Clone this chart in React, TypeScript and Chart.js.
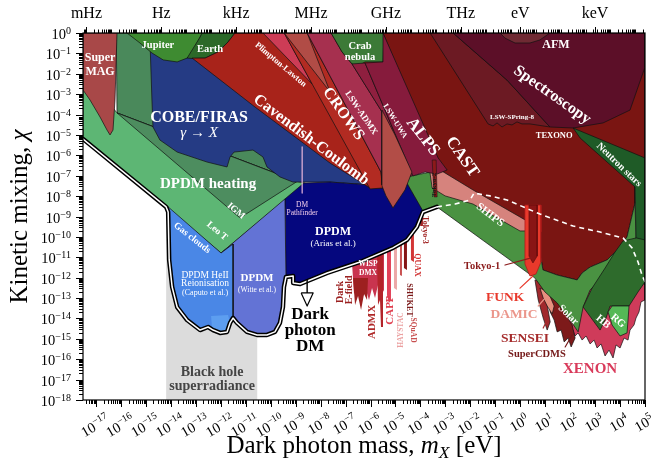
import React, { useEffect, useRef } from "react";
import { Chart, registerables } from "chart.js";

Chart.register(...registerables);

const SERIF = "'Liberation Serif', 'DejaVu Serif', serif";

// ---------- axes (log10 units) ----------
const xMinExp = -17.52;
const xMaxExp = 5;
const yMinExp = -18;
const yMaxExp = 0;
const xTickExps = [-17, -16, -15, -14, -13, -12, -11, -10, -9, -8, -7, -6, -5, -4, -3, -2, -1, 0, 1, 2, 3, 4, 5];
const yTickExps = [0, -1, -2, -3, -4, -5, -6, -7, -8, -9, -10, -11, -12, -13, -14, -15, -16, -17, -18];
const topTickLabels = ["mHz", "Hz", "kHz", "MHz", "GHz", "THz", "eV", "keV"];
const topTickMassesEV = [4.1357e-18, 4.1357e-15, 4.1357e-12, 4.1357e-9, 4.1357e-6, 4.1357e-3, 1, 1000];
const hzToEV = 4.1357e-15;

type Pts = [number, number][];

// ---------- regions: [log10 mass/eV, log10 chi] ----------
const bhSuperradiance: Pts = [[-14.19, -18], [-10.54, -18], [-10.54, -8], [-14.19, -8]];
const heatingDark: Pts = [[-16.19, 0], [-8.82, 0], [-8.94, -7.28], [-16.16, -3.92]];
const heatingLight: Pts = [[-17.52, -1.81], [-16.16, -3.92], [-8.94, -7.28], [-8.62, -7.36], [-11.99, -10.79], [-14.19, -8.53], [-17.52, -5.25]];
const igm: Pts = [[-16.16, -3.92], [-11.23, -9.07], [-8.94, -7.28]];
const superMAG: Pts = [[-17.52, 0], [-16.16, 0], [-16.24, -3.29], [-16.32, -4.76], [-16.44, -5.0], [-16.56, -4.76], [-16.84, -4.12], [-17.24, -3.29], [-17.52, -2.8]];
const cobeFiras: Pts = [[-14.84, -0.34], [-14.76, -3.29], [-14.72, -4.61], [-14.44, -5.25], [-13.75, -5.84], [-12.55, -6.33], [-11.75, -6.57], [-11.63, -6.08], [-11.47, -5.84], [-10.71, -5.74], [-10.31, -6.08], [-10.15, -6.57], [-9.63, -7.06], [-9.11, -7.31], [-7.62, -7.31], [-6.02, -7.45], [-4.42, -7.41], [-4.42, -0.34]];
const dpdmArias: Pts = [[-9.43, -8.14], [-8.67, -7.36], [-7.62, -7.31], [-6.02, -7.45], [-5.1, -7.45], [-4.54, -7.36], [-3.9, -8.68], [-4.14, -9.51], [-4.54, -10.15], [-5.1, -10.54], [-6.42, -11.23], [-7.74, -11.77], [-8.82, -12.31], [-9.1, -12.26], [-9.1, -11.92], [-9.39, -11.97]];
const dpdmWitte: Pts = [[-11.99, -10.79], [-9.43, -8.14], [-9.39, -11.97], [-9.47, -12.46], [-9.51, -13.44], [-9.63, -14.22], [-9.83, -14.66], [-10.15, -14.81], [-10.55, -14.81], [-10.95, -14.66], [-11.35, -14.22], [-11.51, -13.98], [-11.51, -10.35]];
const dpdmHeII: Pts = [[-14.11, -8.53], [-11.99, -10.79], [-11.51, -10.35], [-11.51, -13.98], [-11.63, -14.22], [-11.75, -14.66], [-12.03, -14.71], [-12.31, -14.57], [-12.51, -14.42], [-12.83, -14.57], [-13.35, -14.08], [-13.75, -13.44], [-13.95, -12.46], [-14.07, -11.13], [-14.11, -8.78]];
const heIIPatch: Pts = [[-12.39, -13.88], [-11.71, -13.83], [-11.63, -14.22], [-11.75, -14.62], [-12.03, -14.71], [-12.35, -14.52]];
const jupiter: Pts = [[-15.76, 0], [-15.24, -0.49], [-14.76, -0.98], [-14.31, -1.32], [-13.75, -1.42], [-13.35, -1.23], [-13.15, -0.98], [-12.83, -0.2], [-12.75, 0]];
const earth: Pts = [[-13.35, -1.23], [-12.83, -0.2], [-12.75, 0], [-11.43, 0], [-11.71, -0.44], [-12.11, -0.93], [-12.63, -1.23], [-13.15, -1.25]];
const cavendish: Pts = [[-13.15, -1.23], [-12.63, -1.23], [-12.11, -0.93], [-11.71, -0.44], [-11.43, 0], [-4.82, 0], [-4.82, -7.6], [-6.02, -7.6], [-7.62, -6.38], [-10.63, -3.63]];
const plimptonWedge: Pts = [[-10.31, 0], [-9.46, 0], [-8.34, -2.5]];
const crows: Pts = [[-9.46, 0], [-8.54, 0], [-5.58, -6.82], [-5.5, -7.6], [-6.02, -7.65], [-8.34, -2.5]];
const salmonTop: Pts = [[-9.46, 0], [-8.54, 0], [-7.62, -2.89]];
const lswAdmx: Pts = [[-8.54, 0], [-7.58, 0], [-7.14, -0.93], [-6.74, -1.52], [-5.54, -3.87], [-5.54, -7.45], [-5.58, -6.82]];
const crab: Pts = [[-7.58, 0], [-5.46, 0], [-5.5, -1.42], [-6.22, -1.42], [-6.5, -1.62], [-6.74, -1.52], [-7.14, -0.93]];
const lswUwa: Pts = [[-6.74, -1.52], [-6.22, -1.47], [-4.3, -7.01], [-4.3, -7.31], [-4.54, -6.62], [-4.98, -5.74], [-5.54, -3.87]];
const xenon: Pts = [[1.52, -13.09], [3.2, -12.11], [5.0, -11.13], [5.0, -13.09], [4.84, -13.19], [4.76, -13.68], [4.64, -13.98], [4.56, -14.32], [4.4, -14.57], [4.32, -15.06], [4.16, -14.96], [4.0, -15.45], [3.84, -15.3], [3.72, -15.94], [3.56, -15.55], [3.4, -15.84], [3.24, -15.25], [3.08, -15.45], [2.96, -15.06], [2.8, -15.25], [2.64, -14.86], [2.48, -15.06], [2.32, -14.71], [2.2, -14.86], [2.04, -14.37], [1.84, -14.47], [1.72, -14.08], [1.56, -13.98], [1.44, -13.49]];
const superCDMS: Pts = [[1.12, -12.85], [1.6, -13.09], [1.84, -13.83], [2.08, -14.32], [2.2, -14.96], [2.04, -15.4], [1.92, -14.96], [1.76, -15.15], [1.64, -14.57], [1.48, -14.66], [1.36, -14.08], [1.2, -13.68]];
const sensei: Pts = [[0.59, -12.11], [0.88, -12.21], [1.08, -13.34], [1.2, -14.17], [1.08, -14.57], [0.92, -13.98], [0.72, -13.09]];
const damic: Pts = [[0.79, -12.51], [1.12, -12.7], [1.36, -13.39], [1.28, -13.78], [1.08, -13.39], [0.92, -13.0]];
const stellarMaroon: Pts = [[-5.5, 0], [5.0, 0], [5.0, -6.72], [4.6, -7.21], [4.6, -8.34], [4.28, -10.0], [4.0, -10.5], [3.48, -11.13], [2.8, -11.48], [2.48, -11.77], [2.28, -12.11], [1.48, -11.87], [0.91, -11.62], [0.83, -11.03], [0.83, -9.76], [0.27, -9.32], [-1.89, -7.85], [-3.01, -7.11], [-3.29, -6.47]];
const solarShips: Pts = [[-4.54, -7.36], [-4.9, -7.21], [-4.34, -7.01], [-3.61, -6.82], [-3.21, -6.72], [-1.89, -7.8], [0.27, -9.3], [0.83, -9.76], [0.83, -11.03], [0.91, -11.62], [1.48, -11.87], [2.28, -12.11], [2.48, -11.77], [2.8, -11.48], [3.48, -11.13], [4.0, -10.5], [4.28, -10.0], [4.6, -8.34], [4.65, -10.64], [4.0, -11.23], [3.4, -11.87], [2.8, -12.6], [2.52, -13.44], [2.32, -14.66], [2.0, -14.08], [1.48, -13.24], [0.99, -12.7], [0.59, -12.02], [-3.34, -8.53], [-3.9, -8.73]];
const lswSpring8: Pts = [[-3.61, 0], [-2.69, 0], [-0.53, -2.31], [1.19, -4.61], [0.39, -4.46], [0.07, -4.46], [-0.13, -4.36], [-0.33, -4.51], [-0.53, -4.46], [-0.73, -4.61], [-0.93, -4.41], [-1.09, -4.56], [-1.29, -4.46]];
const spectroscopy: Pts = [[-2.69, 0], [5.0, 0], [5.0, -1.67], [4.4, -3.78], [3.32, -4.41], [2.12, -4.66], [1.19, -4.61], [-0.53, -2.31]];
const afm: Pts = [[-0.81, 0], [1.19, 0], [0.79, -0.34], [0.39, -0.49], [-0.21, -0.49], [-0.61, -0.25]];
const neutronStars: Pts = [[2.12, -4.66], [5.0, -6.13], [5.0, -12.36], [4.8, -11.87], [4.65, -10.64], [4.6, -7.55], [2.4, -5.15]];
const hb: Pts = [[2.52, -13.44], [2.88, -12.51], [3.4, -11.53], [3.8, -10.74], [4.12, -10.2], [4.65, -10.05], [5.0, -10.15], [5.0, -12.21], [4.72, -12.7], [4.36, -13.39], [3.6, -13.39], [3.44, -13.98], [3.2, -14.57]];
const rg: Pts = [[3.52, -13.68], [3.68, -13.39], [4.36, -13.39], [4.32, -14.08], [4.28, -14.71], [4.0, -14.86], [3.68, -14.32]];
const castPink: Pts = [[-3.69, -6.23], [-3.21, -6.72], [-1.89, -7.7], [0.27, -9.22], [0.51, -9.71], [-0.01, -9.71], [-1.89, -8.39], [-3.01, -7.99], [-3.53, -7.6]];
const alps: Pts = [[-6.22, -1.47], [-5.5, -1.42], [-5.5, 0], [-3.29, -6.13], [-2.93, -6.72], [-3.33, -6.92], [-3.81, -6.82], [-4.3, -7.01]];
const lswTongue: Pts = [[-5.54, -3.78], [-5.02, -5.0], [-4.34, -6.82], [-4.62, -7.7], [-5.1, -8.58], [-5.38, -7.99], [-5.54, -7.5]];
const tokyo2: Pts = [[-3.53, -6.23], [-3.37, -6.23], [-3.33, -8.04], [-3.45, -8.04]];
const funk: Pts = [[0.19, -8.44], [0.83, -8.44], [0.83, -11.23], [0.63, -11.82], [0.39, -11.92], [0.19, -11.33]];
const tokyo1: Pts = [[0.35, -8.44], [0.68, -8.44], [0.68, -10.94], [0.51, -11.28], [0.35, -10.94]];
const wispDmx: Pts = [[-6.74, -11.33], [-5.46, -10.69], [-5.46, -12.6], [-5.58, -12.9], [-5.7, -12.36], [-5.82, -13.0], [-5.94, -12.51], [-6.06, -13.09], [-6.18, -12.6], [-6.34, -13.0], [-6.5, -12.51], [-6.66, -12.8]];
const darkEField: Pts = [[-6.7, -12.02], [-6.1, -12.02], [-6.14, -13.09], [-6.26, -12.8], [-6.38, -13.59], [-6.5, -12.9], [-6.62, -13.34]];
const admx: Pts = [[-5.74, -10.94], [-5.5, -10.84], [-5.5, -14.42], [-5.58, -14.42], [-5.62, -13.09], [-5.7, -13.34]];
const capp: Pts = [[-5.34, -10.64], [-5.18, -10.59], [-5.18, -13.09], [-5.26, -13.24], [-5.34, -12.85]];
const haystac: Pts = [[-5.06, -10.5], [-4.94, -10.45], [-4.94, -12.6], [-5.06, -12.51]];
const squad: Pts = [[-4.82, -10.35], [-4.74, -10.3], [-4.74, -11.92], [-4.82, -11.87]];
const shuket: Pts = [[-4.66, -10.25], [-4.54, -10.2], [-4.54, -11.62], [-4.66, -11.53]];
const quax: Pts = [[-4.38, -9.96], [-4.26, -9.86], [-4.26, -11.23], [-4.38, -11.13]];
const tokyo3: Pts = [[-4.01, -8.88], [-3.9, -8.78], [-3.9, -9.47], [-4.01, -9.47]];

// ---------- lines ----------
const dmEnvelope: Pts = [[-17.52, -5.2], [-14.19, -8.53], [-14.11, -8.78], [-14.07, -11.13], [-13.95, -12.46], [-13.75, -13.44], [-13.35, -14.08], [-12.83, -14.57], [-12.51, -14.42], [-12.31, -14.57], [-12.03, -14.71], [-11.75, -14.66], [-11.63, -14.22], [-11.51, -13.98], [-11.35, -14.22], [-10.95, -14.66], [-10.55, -14.81], [-10.15, -14.81], [-9.83, -14.66], [-9.63, -14.22], [-9.51, -13.44], [-9.47, -12.46], [-9.39, -11.97], [-9.1, -11.92], [-9.1, -12.26], [-8.82, -12.31], [-7.74, -11.77], [-6.42, -11.23], [-5.1, -10.54], [-4.54, -10.15], [-4.14, -9.51], [-3.9, -8.78], [-3.34, -8.53]];
const dmEnvelopeDashed: Pts = [[-3.34, -8.53], [-2.61, -8.39], [-2.01, -8.19], [-1.85, -7.85], [-1.21, -7.99], [-0.53, -8.19], [0.79, -8.88], [2.12, -9.47], [3.2, -9.76], [4.12, -10.05], [4.48, -10.54], [4.72, -11.23], [4.88, -11.87], [5.0, -12.21]];
const pathfinderLine: Pts = [[-8.74, -5.59], [-8.74, -7.85]];
const arrowShaft: Pts = [[-8.54, -12.11], [-8.54, -12.75]];
const arrowHead: Pts = [[-8.78, -12.75], [-8.3, -12.75], [-8.54, -13.39]];
const tokyo1Pointer: Pts = [[-0.61, -11.38], [0.44, -11.03]];
const funkPointer: Pts = [[-0.01, -12.51], [0.51, -11.92]];
const damicPointer: Pts = [[0.72, -13.39], [0.96, -13.05]];
const senseiPointer: Pts = [[0.92, -14.47], [1.08, -14.08]];
const superCDMSPointer: Pts = [[1.8, -15.4], [2.08, -14.81]];

// ---------- style tables ----------
type Layer = { pts: Pts; kind: "poly" | "line"; color: string; stroke?: string; width?: number; dash?: number[] };
const K = "#111";
const layers: Layer[] = [
  { pts: bhSuperradiance, kind: "poly", color: "#dcdcdc", width: 0 },
  { pts: heatingDark, kind: "poly", color: "#4a895b" },
  { pts: heatingLight, kind: "poly", color: "#5db674" },
  { pts: igm, kind: "poly", color: "#4d8d5f" },
  { pts: superMAG, kind: "poly", color: "#a84848" },
  { pts: cobeFiras, kind: "poly", color: "#253b84" },
  { pts: dpdmArias, kind: "poly", color: "#05077e" },
  { pts: dpdmWitte, kind: "poly", color: "#6373d5" },
  { pts: dpdmHeII, kind: "poly", color: "#4a87e6" },
  { pts: heIIPatch, kind: "poly", color: "#5d9ef0", width: 0 },
  { pts: jupiter, kind: "poly", color: "#3e8b31" },
  { pts: earth, kind: "poly", color: "#2c6929" },
  { pts: cavendish, kind: "poly", color: "#a8231a" },
  { pts: plimptonWedge, kind: "poly", color: "#cd3c56" },
  { pts: crows, kind: "poly", color: "#b22b22" },
  { pts: salmonTop, kind: "poly", color: "#b14c46" },
  { pts: lswAdmx, kind: "poly", color: "#a6304f" },
  { pts: crab, kind: "poly", color: "#3c7a37" },
  { pts: lswUwa, kind: "poly", color: "#8f1f3f" },
  { pts: xenon, kind: "poly", color: "#cf3b5a" },
  { pts: superCDMS, kind: "poly", color: "#7d1a1a" },
  { pts: sensei, kind: "poly", color: "#a1292d" },
  { pts: damic, kind: "poly", color: "#e8907f" },
  { pts: stellarMaroon, kind: "poly", color: "#7a1512" },
  { pts: solarShips, kind: "poly", color: "#4a9242" },
  { pts: lswSpring8, kind: "poly", color: "#6c1a23" },
  { pts: spectroscopy, kind: "poly", color: "#5c0f28" },
  { pts: afm, kind: "poly", color: "#6f2a33" },
  { pts: neutronStars, kind: "poly", color: "#1f5b27" },
  { pts: hb, kind: "poly", color: "#2e6b2c" },
  { pts: rg, kind: "poly", color: "#55b856" },
  { pts: castPink, kind: "poly", color: "#d6837d" },
  { pts: alps, kind: "poly", color: "#861b3c" },
  { pts: lswTongue, kind: "poly", color: "#b24d47" },
  { pts: tokyo2, kind: "poly", color: "#8c1a1a", width: 0.5 },
  { pts: funk, kind: "poly", color: "#e9392b", stroke: "#b01c1c", width: 0.8 },
  { pts: tokyo1, kind: "poly", color: "#8a1515", stroke: "#5a0a0a", width: 0.6 },
  { pts: wispDmx, kind: "poly", color: "#c9344f", width: 0 },
  { pts: darkEField, kind: "poly", color: "#9d2020", width: 0 },
  { pts: admx, kind: "poly", color: "#b3242a", width: 0 },
  { pts: capp, kind: "poly", color: "#e2425a", width: 0 },
  { pts: haystac, kind: "poly", color: "#eca8a8", width: 0 },
  { pts: squad, kind: "poly", color: "#c95151", width: 0 },
  { pts: shuket, kind: "poly", color: "#861616", width: 0 },
  { pts: quax, kind: "poly", color: "#d33535", width: 0 },
  { pts: tokyo3, kind: "poly", color: "#a42222", width: 0 },
  { pts: dmEnvelope, kind: "line", color: "#000", width: 4.5 },
  { pts: dmEnvelope, kind: "line", color: "#fff", width: 1.5 },
  { pts: dmEnvelopeDashed, kind: "line", color: "#fff", width: 1.6, dash: [5, 4] },
  { pts: pathfinderLine, kind: "line", color: "#e7b5da", width: 1.2 },
  { pts: tokyo1Pointer, kind: "line", color: "#8b1c1c", width: 1.2 },
  { pts: funkPointer, kind: "line", color: "#e8392c", width: 1.2 },
  { pts: damicPointer, kind: "line", color: "#eb968b", width: 1.2 },
  { pts: senseiPointer, kind: "line", color: "#a52b2b", width: 1.2 },
  { pts: superCDMSPointer, kind: "line", color: "#741818", width: 1.2 },
  { pts: arrowShaft, kind: "line", color: "#000", width: 1.4 },
  { pts: arrowHead, kind: "poly", color: "#fff", stroke: "#000", width: 1.2 },
];

// ---------- annotations: text, log10 m, log10 chi, angle, size, colour, weight ----------
const W = "#fff";
const annotations: [string, number, number, number, number, string, string][] = [
  ["Super", -16.84, -1.2, 0, 12, W, "bold"],
  ["MAG", -16.84, -1.91, 0, 12, W, "bold"],
  ["Jupiter", -14.52, -0.59, 0, 10.5, W, "bold"],
  ["Earth", -12.43, -0.78, 0, 10.5, W, "bold"],
  ["Plimpton-Lawton", -9.6, -1.55, 40, 8.5, W, "bold"],
  ["COBE/FIRAS", -12.87, -4.17, 0, 16, W, "bold"],
  ["\u03b3 \u2192 X", -12.87, -4.9, 0, 15, W, "italic"],
  ["Cavendish-Coulomb", -8.38, -5.25, 37, 16, W, "bold"],
  ["CROWS", -7.09, -3.97, 55, 16, W, "bold"],
  ["LSW-ADMX", -6.38, -3.92, 56, 9, W, "bold"],
  ["LSW-UWA", -5.02, -4.32, 58, 8, W, "bold"],
  ["ALPS", -3.9, -5.1, 52, 17, W, "bold"],
  ["CAST", -2.33, -6.08, 55, 17, W, "bold"],
  ["Crab", -6.42, -0.64, 0, 10.5, W, "bold"],
  ["nebula", -6.42, -1.18, 0, 10.5, W, "bold"],
  ["AFM", 1.43, -0.59, 0, 12, W, "bold"],
  ["Spectroscopy", 1.28, -3.04, 35, 16, W, "bold"],
  ["LSW-SPring-8", -0.33, -4.12, 0, 7, W, "bold"],
  ["TEXONO", 1.36, -5.05, 0, 8.5, W, "bold"],
  ["Neutron stars", 3.96, -6.47, 44, 10, W, "bold"],
  ["DPDM heating", -12.51, -7.41, 0, 15, W, "bold"],
  ["IGM", -11.39, -8.73, 40, 9.5, W, "bold"],
  ["Leo T", -12.15, -9.71, 40, 9.5, W, "bold"],
  ["Gas clouds", -13.15, -10.05, 38, 9.5, W, "bold"],
  ["DM", -8.74, -8.44, 0, 7.5, "#f2cdea", "normal"],
  ["Pathfinder", -8.74, -8.83, 0, 7.5, "#f2cdea", "normal"],
  ["DPDM", -7.5, -9.76, 0, 12, W, "bold"],
  ["(Arias et al.)", -7.5, -10.35, 0, 9, W, "normal"],
  ["DPDM HeII", -12.63, -11.87, 0, 9.5, W, "normal"],
  ["Reionisation", -12.63, -12.31, 0, 9.5, W, "normal"],
  ["(Caputo et al.)", -12.63, -12.75, 0, 8, W, "normal"],
  ["DPDM", -10.55, -12.02, 0, 11, W, "bold"],
  ["(Witte et al.)", -10.55, -12.6, 0, 7.5, W, "normal"],
  ["Dark", -8.42, -13.83, 0, 17, "#000", "bold"],
  ["photon", -8.42, -14.61, 0, 17, "#000", "bold"],
  ["DM", -8.42, -15.4, 0, 17, "#000", "bold"],
  ["Black hole", -12.35, -16.63, 0, 14, "#444", "bold"],
  ["superradiance", -12.35, -17.31, 0, 14, "#444", "bold"],
  ["SHIPS", -1.21, -8.93, 37, 11, W, "bold"],
  ["Solar", 1.92, -13.83, 45, 10.5, W, "bold"],
  ["HB", 3.32, -14.17, 40, 10.5, W, "bold"],
  ["RG", 3.92, -14.12, 40, 10.5, W, "bold"],
  ["Tokyo-1", -1.53, -11.43, 0, 10.5, "#8b1c1c", "bold"],
  ["FUNK", -0.61, -12.95, 0, 13.5, "#e8392c", "bold"],
  ["DAMIC", -0.25, -13.83, 0, 13.5, "#eb968b", "bold"],
  ["SENSEI", 0.19, -14.96, 0, 13.5, "#a52b2b", "bold"],
  ["SuperCDMS", 0.67, -15.74, 0, 10.5, "#741818", "bold"],
  ["XENON", 2.8, -16.48, 0, 15, "#d93b5b", "bold"],
  ["Dark", -7.22, -12.7, -90, 10, "#9b2020", "bold"],
  ["E-field", -6.86, -12.6, -90, 10, "#9b2020", "bold"],
  ["WISP", -6.1, -11.33, 0, 7.5, W, "bold"],
  ["DMX", -6.1, -11.77, 0, 7.5, W, "bold"],
  ["ADMX", -5.94, -14.17, -90, 11, "#b02828", "bold"],
  ["CAPP", -5.22, -13.59, -90, 11, "#e04050", "bold"],
  ["HAYSTAC", -4.78, -14.57, -90, 7.5, "#eba0a0", "bold"],
  ["SHUKET", -4.46, -13.09, 90, 8, "#7a1818", "bold"],
  ["SQuAD", -4.3, -14.57, 90, 7.5, "#c85050", "bold"],
  ["QUAX", -4.14, -11.38, 90, 8, "#d03030", "bold"],
  ["Tokyo-3", -3.82, -9.66, 90, 8, "#a02020", "bold"],
  ["Tokyo-2", -3.45, -7.45, -90, 7, "#1a1a1a", "bold"],
];

const toXY = (pts: Pts) => pts.map(([a, b]) => ({ x: Math.pow(10, a), y: Math.pow(10, b) }));
const expText = (n: number) => (n === 0 ? "0" : (n < 0 ? "\u2212" : "") + Math.abs(n));

function buildDatasets(): any[] {
  const n = layers.length;
  return layers.map((L, i) => {
    const base: any = {
      order: n - i,
      pointRadius: 0,
      pointHoverRadius: 0,
      pointHitRadius: 0,
      tension: 0,
      clip: 0,
      spanGaps: true,
    };
    if (L.kind === "poly") {
      const w = L.width === undefined ? 0.7 : L.width;
      return {
        ...base,
        data: toXY([...L.pts, L.pts[0]]),
        fill: "shape",
        backgroundColor: L.color,
        borderColor: w > 0 ? L.stroke || K : "rgba(0,0,0,0)",
        borderWidth: w,
        borderJoinStyle: "round",
      };
    }
    return {
      ...base,
      data: toXY(L.pts),
      fill: false,
      borderColor: L.color,
      borderWidth: L.width,
      borderDash: L.dash || [],
      borderJoinStyle: "round",
      borderCapStyle: L.dash ? "butt" : "round",
    };
  });
}

function drawPow(ctx: CanvasRenderingContext2D, n: number, baseSize: number, expSize: number, xLeft: number, yBase: number, raise: number) {
  ctx.font = `${baseSize}px ${SERIF}`;
  const w10 = ctx.measureText("10").width;
  ctx.textAlign = "left";
  ctx.textBaseline = "alphabetic";
  ctx.fillText("10", xLeft, yBase);
  ctx.font = `${expSize}px ${SERIF}`;
  ctx.fillText(expText(n), xLeft + w10, yBase - raise);
}
function powWidth(ctx: CanvasRenderingContext2D, n: number, baseSize: number, expSize: number) {
  ctx.font = `${baseSize}px ${SERIF}`;
  const a = ctx.measureText("10").width;
  ctx.font = `${expSize}px ${SERIF}`;
  return a + ctx.measureText(expText(n)).width;
}

const overlayPlugin = {
  id: "overlay",
  afterDatasetsDraw(chart: any) {
    const ctx: CanvasRenderingContext2D = chart.ctx;
    const xs = chart.scales.x;
    const ys = chart.scales.y;
    for (const [text, lx, ly, ang, size, color, weight] of annotations) {
      const px = xs.getPixelForValue(Math.pow(10, lx));
      const py = ys.getPixelForValue(Math.pow(10, ly));
      ctx.save();
      ctx.translate(px, py);
      ctx.rotate((ang * Math.PI) / 180);
      ctx.font = `${weight} ${size}px ${SERIF}`;
      ctx.fillStyle = color;
      ctx.textAlign = "center";
      ctx.textBaseline = "middle";
      ctx.fillText(text, 0, 0);
      ctx.restore();
    }
  },
  afterDraw(chart: any) {
    const ctx: CanvasRenderingContext2D = chart.ctx;
    const a = chart.chartArea;
    const xs = chart.scales.x;
    const ys = chart.scales.y;
    const xmin = Math.pow(10, xMinExp);
    const xmax = Math.pow(10, xMaxExp);
    const ymin = Math.pow(10, yMinExp);
    const ymax = Math.pow(10, yMaxExp);
    ctx.save();
    ctx.strokeStyle = "#000";
    ctx.fillStyle = "#000";
    ctx.lineWidth = 1;
    const seg = (x1: number, y1: number, x2: number, y2: number) => {
      ctx.beginPath();
      ctx.moveTo(x1, y1);
      ctx.lineTo(x2, y2);
      ctx.stroke();
    };
    for (let n = -18; n <= 5; n++) {
      for (let k = 1; k <= 9; k++) {
        const v = k * Math.pow(10, n);
        if (v < xmin * 0.9999 || v > xmax * 1.0001) continue;
        const px = Math.round(xs.getPixelForValue(v)) + 0.5;
        seg(px, a.bottom, px, a.bottom + (k === 1 ? 7 : 4));
      }
    }
    for (let n = -4; n <= 19; n++) {
      for (let k = 1; k <= 9; k++) {
        const v = k * Math.pow(10, n) * hzToEV;
        if (v < xmin || v > xmax) continue;
        const px = Math.round(xs.getPixelForValue(v)) + 0.5;
        const major = k === 1 && n % 3 === 0 && n <= 12;
        seg(px, a.top, px, a.top - (major ? 6 : 3.5));
      }
    }
    for (const m of [1, 1000]) {
      const px = Math.round(xs.getPixelForValue(m)) + 0.5;
      seg(px, a.top, px, a.top - 6);
    }
    for (let n = -18; n <= 0; n++) {
      for (let k = 1; k <= 9; k++) {
        const v = k * Math.pow(10, n);
        if (v < ymin * 0.9999 || v > ymax * 1.0001) continue;
        const py = Math.round(ys.getPixelForValue(v)) + 0.5;
        seg(a.left, py, a.left - (k === 1 ? 7 : 4), py);
      }
    }
    ctx.lineWidth = 1.2;
    ctx.strokeRect(a.left, a.top, a.right - a.left, a.bottom - a.top);

    for (const n of yTickExps) {
      const py = ys.getPixelForValue(Math.pow(10, n));
      const w = powWidth(ctx, n, 14.5, 10);
      drawPow(ctx, n, 14.5, 10, a.left - 12 - w, py + 6, 5);
    }
    const ang = (30 * Math.PI) / 180;
    for (const n of xTickExps) {
      const px = xs.getPixelForValue(Math.pow(10, n));
      const w = powWidth(ctx, n, 14.5, 10);
      const h = 14;
      const bh = w * Math.sin(ang) + h * Math.cos(ang);
      ctx.save();
      ctx.translate(px - 1, a.bottom + 12 + bh / 2);
      ctx.rotate(-ang);
      drawPow(ctx, n, 14.5, 10, -w / 2, 5, 6);
      ctx.restore();
    }
    ctx.font = `16px ${SERIF}`;
    ctx.textAlign = "center";
    ctx.textBaseline = "middle";
    topTickLabels.forEach((lab, i) => {
      const px = xs.getPixelForValue(topTickMassesEV[i]);
      ctx.fillText(lab, px, 14);
    });

    const drawParts = (parts: { t: string; f: string; dy: number }[], cx: number, cy: number) => {
      let total = 0;
      for (const p of parts) {
        ctx.font = p.f;
        total += ctx.measureText(p.t).width;
      }
      let x = cx - total / 2;
      ctx.textAlign = "left";
      ctx.textBaseline = "alphabetic";
      for (const p of parts) {
        ctx.font = p.f;
        ctx.fillText(p.t, x, cy + p.dy);
        x += ctx.measureText(p.t).width;
      }
    };
    const TS = 25;
    drawParts(
      [
        { t: "Dark photon mass, ", f: `${TS}px ${SERIF}`, dy: 0 },
        { t: "m", f: `italic ${TS}px ${SERIF}`, dy: 0 },
        { t: "X", f: `italic ${TS * 0.7}px ${SERIF}`, dy: 5 },
        { t: " [eV]", f: `${TS}px ${SERIF}`, dy: 0 },
      ],
      (a.left + a.right) / 2,
      453
    );
    ctx.save();
    ctx.translate(27, (a.top + a.bottom) / 2);
    ctx.rotate(-Math.PI / 2);
    drawParts(
      [
        { t: "Kinetic mixing, ", f: `${TS}px ${SERIF}`, dy: 0 },
        { t: "\u03c7", f: `italic ${TS}px ${SERIF}`, dy: 0 },
      ],
      0,
      0
    );
    ctx.restore();
    ctx.restore();
  },
};

export default function App() {
  const ref = useRef<HTMLCanvasElement | null>(null);
  useEffect(() => {
    const canvas = ref.current;
    if (!canvas) return;
    const chart = new Chart(canvas, {
      type: "line",
      data: { datasets: buildDatasets() },
      options: {
        responsive: false,
        animation: false,
        events: [],
        layout: { padding: { left: 83, right: 9, top: 33, bottom: 61 } },
        plugins: {
          legend: { display: false },
          tooltip: { enabled: false },
          filler: { propagate: false },
        },
        scales: {
          x: { type: "logarithmic", display: false, min: Math.pow(10, xMinExp), max: Math.pow(10, xMaxExp) },
          y: { type: "logarithmic", display: false, min: Math.pow(10, yMinExp), max: Math.pow(10, yMaxExp) },
        },
      } as any,
      plugins: [overlayPlugin as any],
    });
    return () => chart.destroy();
  }, []);
  return (
    <div style={{ position: "fixed", left: 0, top: 0, width: 654, height: 461, background: "#fff" }}>
      <canvas ref={ref} width={654} height={461} style={{ display: "block" }} />
    </div>
  );
}
